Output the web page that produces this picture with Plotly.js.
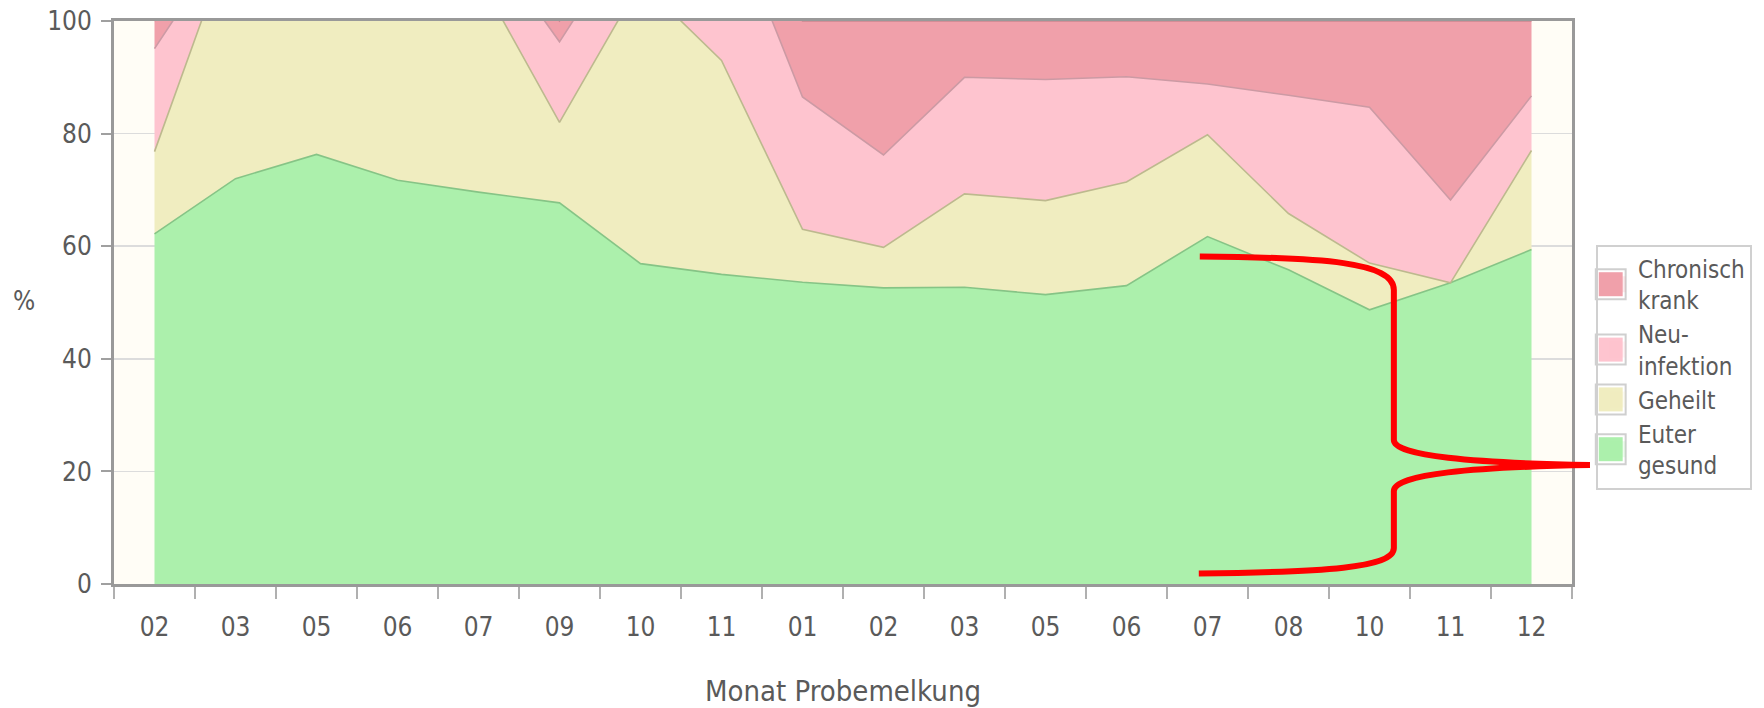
<!DOCTYPE html>
<html>
<head>
<meta charset="utf-8">
<script src="https://cdn.plot.ly/plotly-3.0.1.min.js"></script>
<style>
  html, body { margin: 0; padding: 0; background: #ffffff; }
  #chart { width: 1764px; height: 708px; }
</style>
</head>
<body>
<div id="chart"></div>
<script>
// ---- Data ----
const months = ['02','03','05','06','07','09','10','11','01','02','03','05','06','07','08','10','11','12'];
const euterGesund    = [62.2, 72.0, 76.3, 71.7, 69.6, 67.7, 56.9, 55.0, 53.6, 52.6, 52.7, 51.4, 53.0, 61.7, 55.8, 48.7, 53.5, 59.4];
const geheilt        = [14.6, 44.8, 30.0, 35.0, 38.3, 14.3, 50.1, 38.0,  9.4,  7.2, 16.6, 16.7, 18.4, 18.1, 10.0,  8.3,  0.0, 17.6];
const neuinfektion   = [18.3,  0.0,  0.0,  0.0,  8.6, 14.3, 11.6, 29.6, 23.5, 16.4, 20.7, 21.5, 18.7,  9.0, 21.0, 27.7, 14.7,  9.7];
const chronischKrank = [ 4.9,  0.0,  0.0,  0.0,  0.0,  3.7,  0.0,  0.0, 13.5, 23.8, 10.0, 10.4,  9.9, 11.2, 13.2, 15.3, 31.8, 13.3];
const seriesNames = ['Euter<br>gesund', 'Geheilt', 'Neu-<br>infektion', 'Chronisch<br>krank'];
const yTicks = [0, 20, 40, 60, 80, 100];

// ---- Styling ----
const FONT = "'Liberation Sans Narrow', 'DejaVu Sans Condensed', 'Roboto Condensed', sans-serif";
const TXT = '#5a5a5a';
const fills = ['#ACF0AC', '#F0EDC0', '#FEC4CF', '#F0A0AA'];
const edges = ['#86c486', '#bdb98e', '#cc9aa4', '#c98790'];

const xKeys = months.map((m, i) => 'k' + i);
const values = [euterGesund, geheilt, neuinfektion, chronischKrank];

// stacked areas (drawn from the data)
const traces = values.map((v, i) => ({
  type: 'scatter',
  mode: 'lines',
  x: xKeys,
  y: v,
  name: seriesNames[i],
  legendgroup: 'g' + i,
  showlegend: false,
  stackgroup: 'one',
  fillcolor: fills[i],
  line: { color: edges[i], width: 1.6, shape: 'linear' },
  hoverinfo: 'y+name'
}));
// legend entries (same series; square swatches are painted under them after layout)
[3, 2, 1, 0].forEach(i => {
  traces.push({
    type: 'scatter', mode: 'markers', x: [null], y: [null],
    name: seriesNames[i], legendgroup: 'g' + i, showlegend: true,
    marker: { symbol: 'square', size: 16, color: fills[i], opacity: 0 },
    hoverinfo: 'skip'
  });
});

const W = 1764, H = 708;
const M = { l: 114, r: 185, t: 21, b: 124 };
const PW = W - M.l - M.r, PH = H - M.t - M.b;
const px = x => (x - M.l) / PW;
const py = y => (H - M.b - y) / PH;
function pathPx(cmds) {
  return cmds.map(c => {
    const pts = [];
    for (let k = 1; k < c.length; k += 2) pts.push(px(c[k]).toFixed(5) + ',' + py(c[k + 1]).toFixed(5));
    return c[0] + ' ' + pts.join(' ');
  }).join(' ');
}

const bracePath = pathPx([
  ['M', 1205, 256.5],
  ['C', 1330, 257.5, 1400, 262, 1400, 290],
  ['L', 1400, 440],
  ['C', 1400, 456, 1480, 463, 1597, 465],
  ['C', 1480, 467, 1400, 474, 1400, 491],
  ['L', 1400, 548],
  ['C', 1400, 568, 1330, 572, 1204, 573.5]
]);

const layout = {
  width: W, height: H,
  margin: M,
  paper_bgcolor: '#ffffff',
  plot_bgcolor: '#FFFDF6',
  font: { family: FONT, color: TXT, size: 24 },
  showlegend: true,
  legend: {
    x: 1.0164, xanchor: 'left',
    y: 0.603, yanchor: 'top',
    traceorder: 'normal',
    valign: 'middle',
    bgcolor: 'rgba(255,255,255,0)',
    bordercolor: '#d0d0d0',
    borderwidth: 2,
    font: { family: FONT, size: 24, color: TXT },
    itemclick: false, itemdoubleclick: false
  },
  xaxis: {
    type: 'category',
    range: [-0.5, months.length - 0.5],
    tickmode: 'array',
    tickvals: xKeys,
    ticktext: months,
    tickson: 'boundaries',
    ticks: 'outside',
    ticklen: 12,
    tickwidth: 2,
    tickcolor: '#b0b0b0',
    showgrid: false,
    zeroline: false,
    showline: true,
    linecolor: '#999999',
    linewidth: 3,
    mirror: true,
    ticklabelstandoff: 18,
    tickfont: { family: FONT, size: 26, color: TXT },
    title: { text: 'Monat Probemelkung', font: { family: FONT, size: 29, color: TXT }, standoff: 41 },
    fixedrange: true
  },
  yaxis: {
    range: [0, 100],
    tickmode: 'array',
    tickvals: yTicks,
    ticks: 'outside',
    ticklen: 10,
    tickwidth: 2,
    tickcolor: '#a0a0a0',
    showgrid: true,
    gridcolor: '#dcdcdc',
    gridwidth: 1.5,
    zeroline: false,
    showline: true,
    linecolor: '#999999',
    linewidth: 3,
    mirror: true,
    ticklabelstandoff: 4,
    tickfont: { family: FONT, size: 26, color: TXT },
    fixedrange: true
  },
  annotations: [
    { text: '%', xref: 'paper', yref: 'paper', x: px(24), y: py(301), xanchor: 'center', yanchor: 'middle',
      showarrow: false, font: { family: FONT, size: 26, color: TXT } }
  ],
  shapes: [
    { type: 'path', xref: 'paper', yref: 'paper', path: bracePath,
      line: { color: '#ff0000', width: 6 }, fillcolor: 'rgba(0,0,0,0)', layer: 'above' }
  ]
};

const gd = document.getElementById('chart');
Plotly.newPlot(gd, traces, layout, { displayModeBar: false, staticPlot: true }).then(() => {
  // paint large square swatches underneath the (transparent) legend symbols
  const base = gd.getBoundingClientRect();
  const extra = [];
  gd.querySelectorAll('.legend .traces').forEach(tr => {
    const d = tr.__data__;
    const trace = d && d[0] && d[0].trace;
    const sym = tr.querySelector('.legendpoints path');
    if (!trace || !sym) return;
    const r = sym.getBoundingClientRect();
    const cx = r.left + r.width / 2 - base.left;
    const cy = r.top + r.height / 2 - base.top;
    const o = 15, inr = 12;
    extra.push({ type: 'rect', xref: 'paper', yref: 'paper', layer: 'above',
      x0: px(cx - o), x1: px(cx + o), y0: py(cy + o), y1: py(cy - o),
      fillcolor: '#ffffff', line: { color: '#cfcfcf', width: 2 } });
    extra.push({ type: 'rect', xref: 'paper', yref: 'paper', layer: 'above',
      x0: px(cx - inr), x1: px(cx + inr), y0: py(cy + inr), y1: py(cy - inr),
      fillcolor: trace.marker.color, line: { width: 0 } });
  });
  return Plotly.relayout(gd, { shapes: layout.shapes.concat(extra) });
});
</script>
</body>
</html>
